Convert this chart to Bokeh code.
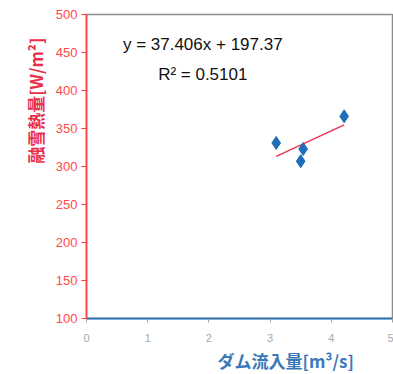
from bokeh.plotting import figure
from bokeh.models import Label, Range1d, FixedTicker, Title
from bokeh.embed import file_html
from bokeh.resources import INLINE

# data
inflow = [3.10, 3.54, 3.50, 4.21]          # ダム流入量 [m3/s]
snowmelt_heat = [331, 323, 307, 366]       # 融雪熱量 [W/m2]
slope = 37.406
intercept = 197.37
r2 = 0.5101
x_ticks = [0, 1, 2, 3, 4, 5]
y_ticks = [100, 150, 200, 250, 300, 350, 400, 450, 500]

p = figure(width=393, height=374, output_backend="svg", toolbar_location=None,
           x_range=Range1d(0, 5), y_range=Range1d(100, 500),
           min_border_left=86, min_border_right=1, min_border_top=14, min_border_bottom=0)
p.grid.visible = False
p.outline_line_color = "#8c8c8c"
p.outline_line_width = 1.5
p.background_fill_color = "white"
p.border_fill_color = "white"

p.xaxis.ticker = FixedTicker(ticks=x_ticks)
p.yaxis.ticker = FixedTicker(ticks=y_ticks)
p.xaxis.minor_tick_line_color = None
p.yaxis.minor_tick_line_color = None
p.xaxis.axis_line_color = "#2e75b6"
p.xaxis.axis_line_width = 2
p.xaxis.major_tick_line_color = "#a0a0a0"
p.xaxis.major_tick_in = 0
p.xaxis.major_tick_out = 4
p.xaxis.major_label_text_color = "#a8a8a8"
p.xaxis.major_label_text_font = "Liberation Sans"
p.xaxis.major_label_text_font_size = "11px"
p.xaxis.major_label_standoff = 11
p.yaxis.axis_line_color = "#ff3b3b"
p.yaxis.axis_line_width = 1.5
p.yaxis.major_tick_line_color = "#ff3b3b"
p.yaxis.major_tick_in = 0
p.yaxis.major_tick_out = 5
p.yaxis.major_label_text_color = "#ff4a4a"
p.yaxis.major_label_text_font = "Liberation Sans"
p.yaxis.major_label_text_font_size = "13px"
p.yaxis.major_label_standoff = 4

# trend line
xs = [min(inflow), max(inflow)]
ys = [slope * v + intercept for v in xs]
p.line(xs, ys, line_color="#ee3355", line_width=1.5)

p.scatter(inflow, snowmelt_heat, marker="diamond", size=13, color="#1f6fb8")

p.add_layout(Label(x=1.9, y=460, text=f"y = {slope}x + {intercept}", text_align="center",
                   text_baseline="middle", text_font="Liberation Sans", text_font_size="17px",
                   text_color="#111111"))
p.add_layout(Label(x=1.9, y=421, text=f"R\u00b2 = {r2}", text_align="center",
                   text_baseline="middle", text_font="Liberation Sans", text_font_size="17px",
                   text_color="#111111"))

p.add_layout(Title(text="融雪熱量[W/m²]", align="right", offset=23,
                   text_font="Noto Sans CJK JP", text_font_size="17px",
                   text_font_style="bold", text_color="#e8304a", standoff=10), "left")
p.add_layout(Title(text="ダム流入量[m³/s]", align="left", offset=131,
                   text_font="Noto Sans CJK JP", text_font_size="17px",
                   text_font_style="bold", text_color="#3a78b8", standoff=3), "below")

open("out.html", "w").write(file_html(p, INLINE))
